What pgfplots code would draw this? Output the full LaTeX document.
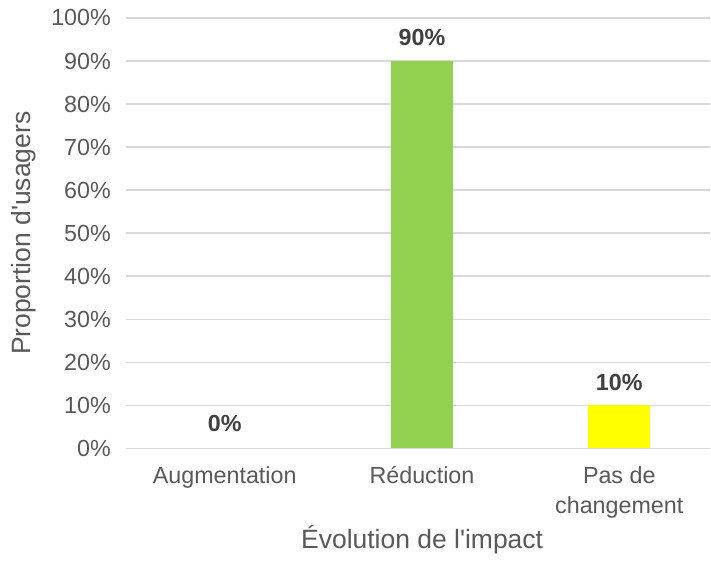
\documentclass[border=0pt]{standalone}
\usepackage{pgfplots}
\pgfplotsset{compat=1.18}
\usepackage{fontspec}
\setmainfont{Liberation Sans}
\definecolor{txt}{HTML}{595959}
\definecolor{lbl}{HTML}{404040}
\definecolor{gridc}{HTML}{D9D9D9}
\definecolor{vert}{HTML}{92D050}
\definecolor{jaune}{HTML}{FFFF00}
\begin{document}
\begin{tikzpicture}
\begin{axis}[
  scale only axis,
  width=292.5bp, height=215.5bp,
  at={(0,0)}, anchor=south west,
  xmin=-0.501, xmax=2.461,
  ymin=0, ymax=100,
  ytick={0,10,...,100},
  yticklabel={\pgfmathprintnumber{\tick}\%},
  /pgf/number format/assume math mode=true,
  xtick={0,1,2},
  xticklabels={Augmentation, Réduction, {Pas de\\changement}},
  xticklabel style={align=center, font=\fontsize{11.7}{15}\selectfont, text=txt},
  yticklabel style={font=\fontsize{11.7}{14}\selectfont, text=txt},
  xticklabel shift=5.5bp,
  yticklabel shift=4bp,
  major tick length=0pt,
  ymajorgrids, xmajorgrids=false,
  grid style={draw=gridc, line width=0.8bp},
  axis line style={draw=none},
  axis x line*=bottom,
  axis y line*=left,
  ybar, bar width=31bp, bar shift=0pt,
  nodes near coords={\pgfmathprintnumber{\pgfplotspointmeta}\%},
  nodes near coords style={font=\bfseries\fontsize{11.7}{14}\selectfont, text=lbl, anchor=south, yshift=4bp},
  xlabel={Évolution de l\textquotesingle impact},
  ylabel={Proportion d\textquotesingle usagers},
  xlabel style={font=\fontsize{13.3}{16}\selectfont, text=txt, at={(axis description cs:0.507,-0.211)}, anchor=center},
  ylabel style={font=\fontsize{13.3}{16}\selectfont, text=txt, at={(axis description cs:-0.1745,0.5)}, anchor=center},
  clip=false,
]
\addplot[fill=vert, draw=none] coordinates {(1,90)};
\addplot[fill=jaune, draw=none] coordinates {(2,10)};
\addplot[draw=none, fill=none, nodes near coords style={yshift=1bp}] coordinates {(0,0)};
\end{axis}
\path[use as bounding box] (-63bp,-53.5bp) rectangle (292.5bp,224.5bp);
\end{tikzpicture}
\end{document}
